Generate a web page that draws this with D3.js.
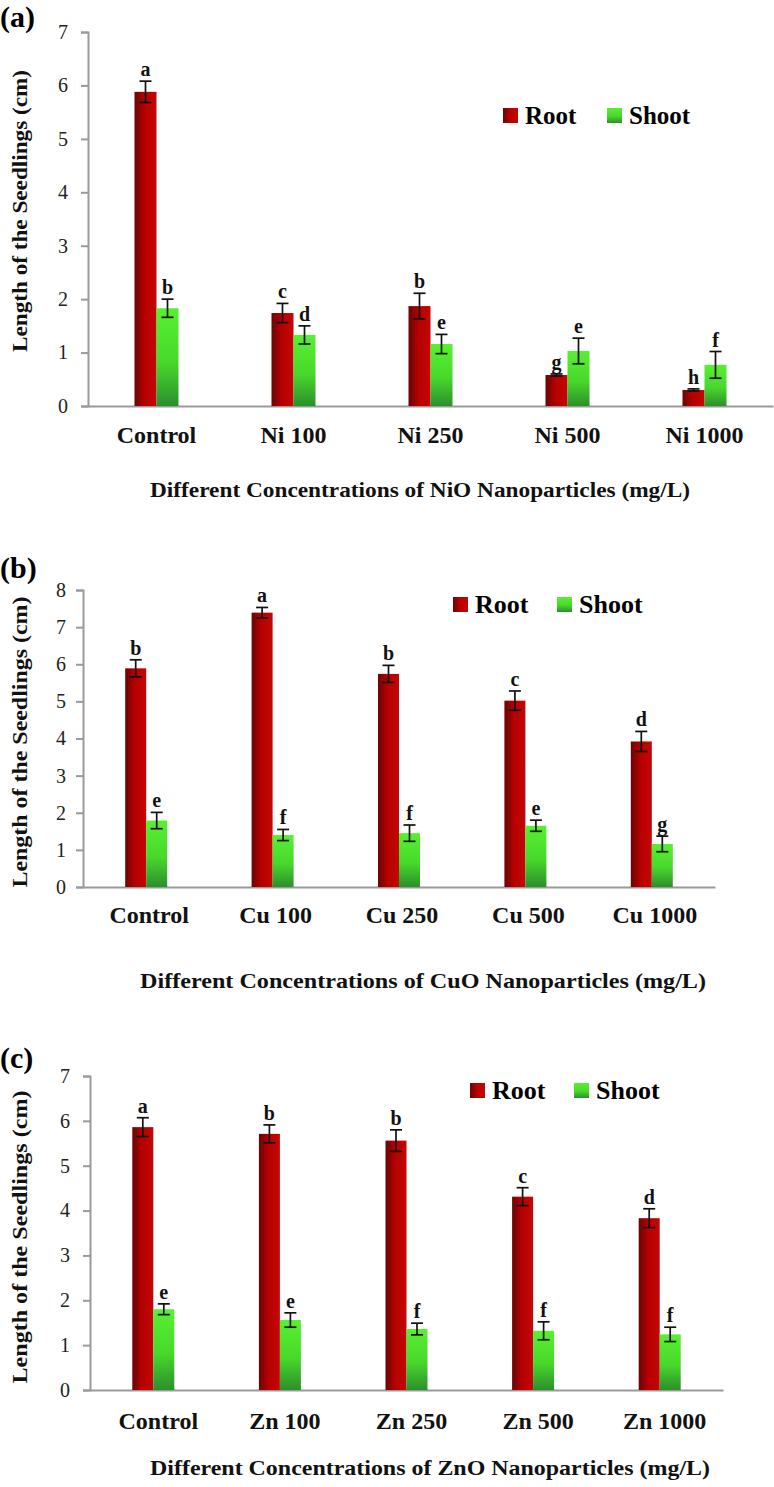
<!DOCTYPE html>
<html>
<head>
<meta charset="utf-8">
<script src="https://cdn.jsdelivr.net/npm/d3@7/dist/d3.min.js"></script>
<style>
  html, body { margin: 0; padding: 0; background: #fff; }
  svg { display: block; }
  text { font-family: "Liberation Serif", "DejaVu Serif", serif; }
</style>
</head>
<body>
<svg id="chart" width="774" height="1487"></svg>
<script>
// ---------------- DATA ----------------
const categoriesA = ["Control", "Ni 100", "Ni 250", "Ni 500", "Ni 1000"];
const rootA       = [5.88, 1.74, 1.87, 0.58, 0.30];
const rootErrA    = [0.20, 0.18, 0.24, 0.02, 0.02];
const shootA      = [1.83, 1.33, 1.16, 1.03, 0.77];
const shootErrA   = [0.17, 0.17, 0.18, 0.24, 0.25];
const rootLettersA  = ["a", "c", "b", "g", "h"];
const shootLettersA = ["b", "d", "e", "e", "f"];
const ticksA = [0, 1, 2, 3, 4, 5, 6, 7];

const categoriesB = ["Control", "Cu 100", "Cu 250", "Cu 500", "Cu 1000"];
const rootB       = [5.89, 7.39, 5.74, 5.02, 3.92];
const rootErrB    = [0.23, 0.14, 0.23, 0.26, 0.27];
const shootB      = [1.79, 1.40, 1.45, 1.65, 1.16];
const shootErrB   = [0.22, 0.15, 0.22, 0.15, 0.21];
const rootLettersB  = ["b", "a", "b", "c", "d"];
const shootLettersB = ["e", "f", "f", "e", "g"];
const ticksB = [0, 1, 2, 3, 4, 5, 6, 7, 8];

const categoriesC = ["Control", "Zn 100", "Zn 250", "Zn 500", "Zn 1000"];
const rootC       = [5.86, 5.71, 5.56, 4.31, 3.83];
const rootErrC    = [0.21, 0.20, 0.24, 0.20, 0.21];
const shootC      = [1.80, 1.56, 1.36, 1.32, 1.24];
const shootErrC   = [0.12, 0.16, 0.13, 0.20, 0.16];
const rootLettersC  = ["a", "b", "b", "c", "d"];
const shootLettersC = ["e", "e", "f", "f", "f"];
const ticksC = [0, 1, 2, 3, 4, 5, 6, 7];

const seriesNames = ["Root", "Shoot"];
const yTitleA = "Length of the Seedlings (cm)";
const yTitleB = "Length of the Seedlings  (cm)";
const yTitleC = "Length of the Seedlings  (cm)";
const xTitleA = "Different Concentrations  of NiO Nanoparticles  (mg/L)";
const xTitleB = "Different Concentrations  of CuO Nanoparticles  (mg/L)";
const xTitleC = "Different Concentrations  of ZnO Nanoparticles  (mg/L)";

// ---------------- SETUP ----------------
const svg = d3.select("#chart");
const defs = svg.append("defs");

const rootGrad = defs.append("linearGradient").attr("id", "rootGrad")
  .attr("x1", "0").attr("y1", "0").attr("x2", "1").attr("y2", "0");
rootGrad.append("stop").attr("offset", "0").attr("stop-color", "#660606");
rootGrad.append("stop").attr("offset", "0.45").attr("stop-color", "#b60000");
rootGrad.append("stop").attr("offset", "1").attr("stop-color", "#c50606");

const shootGrad = defs.append("linearGradient").attr("id", "shootGrad")
  .attr("x1", "0").attr("y1", "0").attr("x2", "0").attr("y2", "1");
shootGrad.append("stop").attr("offset", "0").attr("stop-color", "#58f032");
shootGrad.append("stop").attr("offset", "0.55").attr("stop-color", "#48d82b");
shootGrad.append("stop").attr("offset", "1").attr("stop-color", "#2c8f2c");

const panels = [
  { label: "(a)", labelY: 27, cats: categoriesA, root: rootA, rootErr: rootErrA, shoot: shootA, shootErr: shootErrA,
    rl: rootLettersA, sl: shootLettersA, ticks: ticksA, yMax: 7,
    x0: 88, x1: 773, y0: 406, yTop: 32, barW: 22,
    yTitle: yTitleA, yTitleCY: 211, yTitleLen: 282,
    xTitle: xTitleA, xTitleCX: 420, xTitleY: 497, xTitleLen: 540, catY: 443, catDx: 0,
    legX: 503, legY: 108, legFont: 25, tickPad: 13 },
  { label: "(b)", labelY: 578, cats: categoriesB, root: rootB, rootErr: rootErrB, shoot: shootB, shootErr: shootErrB,
    rl: rootLettersB, sl: shootLettersB, ticks: ticksB, yMax: 8,
    x0: 83, x1: 715, y0: 887, yTop: 590, barW: 21,
    yTitle: yTitleB, yTitleCY: 742, yTitleLen: 291,
    xTitle: xTitleB, xTitleCX: 423, xTitleY: 988, xTitleLen: 566, catY: 923, catDx: 3,
    legX: 453, legY: 597, legFont: 26, tickPad: 10 },
  { label: "(c)", labelY: 1068, cats: categoriesC, root: rootC, rootErr: rootErrC, shoot: shootC, shootErr: shootErrC,
    rl: rootLettersC, sl: shootLettersC, ticks: ticksC, yMax: 7,
    x0: 90, x1: 723, y0: 1390, yTop: 1076, barW: 21,
    yTitle: yTitleC, yTitleCY: 1237, yTitleLen: 293,
    xTitle: xTitleC, xTitleCX: 430, xTitleY: 1475, xTitleLen: 560, catY: 1429, catDx: 5,
    legX: 470, legY: 1083, legFont: 26, tickPad: 13 }
];

panels.forEach(p => {
  const g = svg.append("g");
  const x = d3.scaleBand().domain(p.cats).range([p.x0, p.x1]);
  const y = d3.scaleLinear().domain([0, p.yMax]).range([p.y0, p.yTop]);

  // panel label
  g.append("text").attr("x", 0).attr("y", p.labelY)
    .attr("font-size", 30).attr("font-weight", "bold").attr("fill", "#000")
    .text(p.label);

  // y axis
  const yAxis = d3.axisLeft(y).tickValues(p.ticks).tickFormat(d3.format("d"))
    .tickSize(7).tickPadding(p.tickPad);
  const ya = g.append("g").attr("transform", `translate(${p.x0},0)`).call(yAxis);
  ya.select(".domain").attr("stroke", "#9a9a9a").attr("stroke-width", 2);
  ya.selectAll(".tick line").attr("stroke", "#9a9a9a").attr("stroke-width", 2);
  ya.selectAll(".tick text").attr("font-size", 20).attr("fill", "#222");

  // x axis
  const xAxis = d3.axisBottom(x).tickSize(0).tickFormat("");
  const xa = g.append("g").attr("transform", `translate(0,${p.y0})`).call(xAxis);
  xa.select(".domain").attr("stroke", "#9a9a9a").attr("stroke-width", 2);

  // category labels
  g.selectAll(".cat").data(p.cats).enter().append("text")
    .attr("x", d => x(d) + x.bandwidth() / 2 + p.catDx).attr("y", p.catY)
    .attr("text-anchor", "middle").attr("font-size", 24).attr("font-weight", "bold")
    .attr("fill", "#111").text(d => d);

  const rows = p.cats.map((c, i) => ({
    c, i, root: p.root[i], rootErr: p.rootErr[i], shoot: p.shoot[i], shootErr: p.shootErr[i],
    rl: p.rl[i], sl: p.sl[i]
  }));
  const cx = d => x(d.c) + x.bandwidth() / 2;

  // root bars
  g.selectAll(".root").data(rows).enter().append("rect")
    .attr("x", d => cx(d) - p.barW).attr("width", p.barW)
    .attr("y", d => y(d.root)).attr("height", d => y(0) - y(d.root))
    .attr("fill", "url(#rootGrad)");
  // shoot bars
  g.selectAll(".shoot").data(rows).enter().append("rect")
    .attr("x", d => cx(d)).attr("width", p.barW)
    .attr("y", d => y(d.shoot)).attr("height", d => y(0) - y(d.shoot))
    .attr("fill", "url(#shootGrad)");

  // error bars
  const errs = [];
  rows.forEach(d => {
    errs.push({ xc: cx(d) - p.barW / 2, v: d.root, e: d.rootErr, letter: d.rl });
    errs.push({ xc: cx(d) + p.barW / 2, v: d.shoot, e: d.shootErr, letter: d.sl });
  });
  const cap = 6;
  const eg = g.selectAll(".err").data(errs).enter().append("g").attr("stroke", "#111").attr("stroke-width", 1.7);
  eg.append("line").attr("x1", d => d.xc).attr("x2", d => d.xc)
    .attr("y1", d => y(d.v + d.e)).attr("y2", d => y(d.v - d.e));
  eg.append("line").attr("x1", d => d.xc - cap).attr("x2", d => d.xc + cap)
    .attr("y1", d => y(d.v + d.e)).attr("y2", d => y(d.v + d.e));
  eg.append("line").attr("x1", d => d.xc - cap).attr("x2", d => d.xc + cap)
    .attr("y1", d => y(d.v - d.e)).attr("y2", d => y(d.v - d.e));

  // significance letters
  g.selectAll(".letter").data(errs).enter().append("text")
    .attr("x", d => d.xc).attr("y", d => y(d.v + d.e) - 5)
    .attr("text-anchor", "middle").attr("font-size", 20).attr("font-weight", "bold")
    .attr("fill", "#111").text(d => d.letter);

  // y title
  g.append("text")
    .attr("transform", `translate(27,${p.yTitleCY}) rotate(-90)`)
    .attr("text-anchor", "middle").attr("font-size", 21).attr("font-weight", "bold")
    .attr("textLength", p.yTitleLen).attr("lengthAdjust", "spacingAndGlyphs")
    .attr("fill", "#111").text(p.yTitle);

  // x title
  g.append("text")
    .attr("x", p.xTitleCX).attr("y", p.xTitleY)
    .attr("text-anchor", "middle").attr("font-size", 22).attr("font-weight", "bold")
    .attr("textLength", p.xTitleLen).attr("lengthAdjust", "spacingAndGlyphs")
    .attr("fill", "#111").text(p.xTitle);

  // legend
  const sq = 15;
  const lg = g.append("g");
  const legItems = [
    { name: seriesNames[0], fill: "url(#rootGrad)", dx: 0 },
    { name: seriesNames[1], fill: "url(#shootGrad)", dx: 104 }
  ];
  legItems.forEach(it => {
    lg.append("rect").attr("x", p.legX + it.dx).attr("y", p.legY).attr("width", sq).attr("height", sq)
      .attr("fill", it.fill);
    lg.append("text").attr("x", p.legX + it.dx + sq + 7).attr("y", p.legY + sq + 1)
      .attr("font-size", p.legFont).attr("font-weight", "bold").attr("fill", "#000").text(it.name);
  });
});
</script>
</body>
</html>
